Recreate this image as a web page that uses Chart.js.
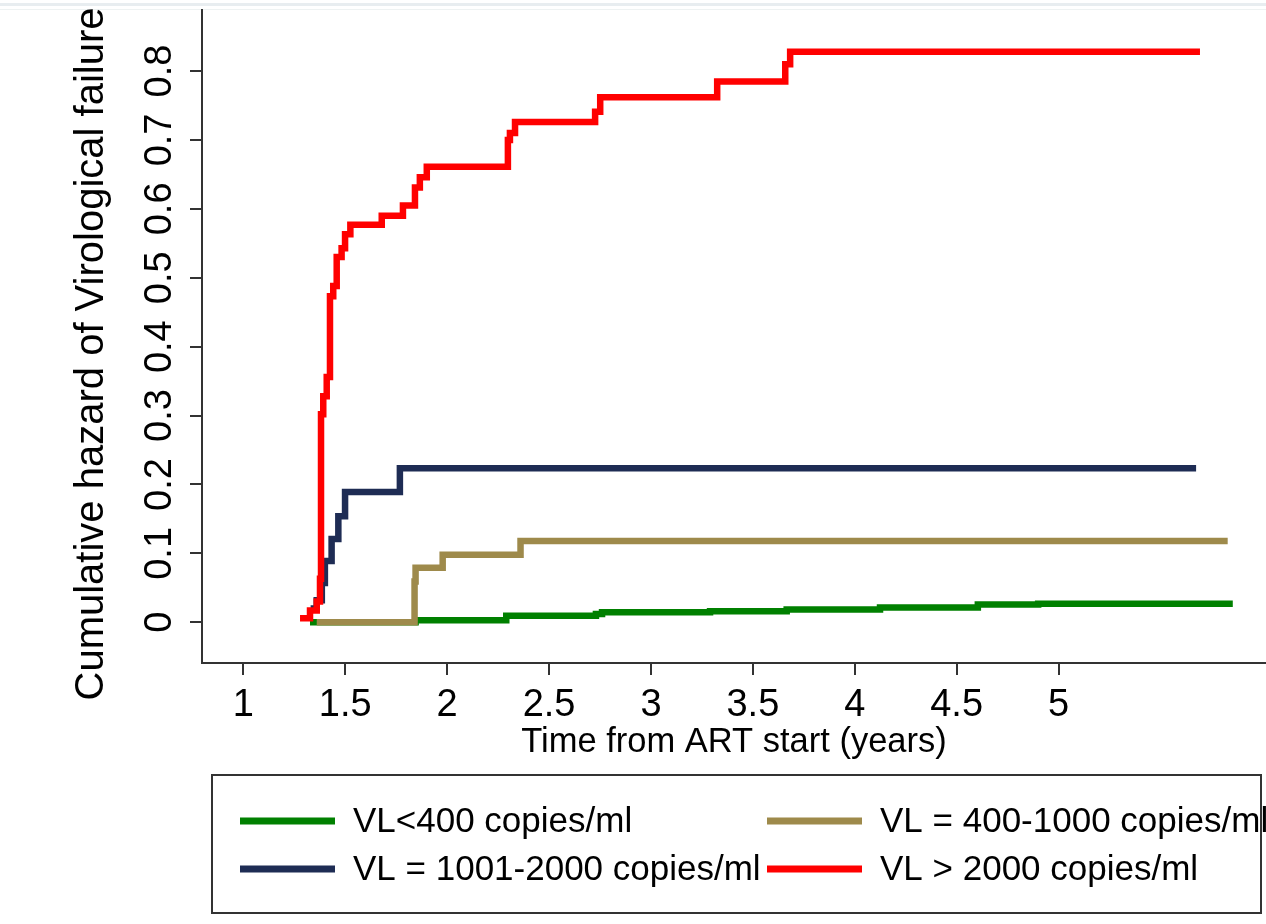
<!DOCTYPE html>
<html>
<head>
<meta charset="utf-8">
<title>Cumulative hazard of Virological failure</title>
<script src="https://cdn.jsdelivr.net/npm/chart.js@4.4.1/dist/chart.umd.min.js"></script>
<style>
	html, body { margin: 0; padding: 0; background: #fff; }
	#hazardChart { display: block; }
</style>
</head>
<body>
<canvas id="hazardChart" width="1266" height="924"></canvas>
<script>
// Axis ticks
var xTicks = [1, 1.5, 2, 2.5, 3, 3.5, 4, 4.5, 5];
var yTicks = [0, 0.1, 0.2, 0.3, 0.4, 0.5, 0.6, 0.7, 0.8];

// Series labels (legend order)
var seriesLabels = ['VL<400 copies/ml', 'VL = 400-1000 copies/ml', 'VL = 1001-2000 copies/ml', 'VL > 2000 copies/ml'];

// VL<400 copies/ml
var lowTime   = [1.327, 1.845, 2.29, 2.73, 2.76, 3.29, 3.666, 4.124, 4.604, 4.9, 5.855];
var lowHazard = [0, 0.003, 0.0095, 0.012, 0.0147, 0.016, 0.0185, 0.0215, 0.0258, 0.027, 0.027];

// VL = 400-1000 copies/ml
var midTime   = [1.36, 1.84, 1.845, 1.978, 2.36, 5.83];
var midHazard = [0, 0.059, 0.079, 0.098, 0.118, 0.118];

// VL = 1001-2000 copies/ml
var highTime   = [1.33, 1.36, 1.385, 1.40, 1.433, 1.466, 1.499, 1.768, 5.675];
var highHazard = [0.02, 0.032, 0.057, 0.089, 0.121, 0.154, 0.189, 0.2235, 0.2235];

// VL > 2000 copies/ml
var topTime   = [1.278, 1.327, 1.36, 1.376, 1.381, 1.392, 1.409, 1.425, 1.441, 1.458, 1.482, 1.499, 1.525,
	1.679, 1.783, 1.842, 1.866, 1.90, 2.298, 2.308, 2.333, 2.726, 2.751, 3.325, 3.659, 3.683, 5.694];
var topHazard = [0.006, 0.017, 0.03, 0.063, 0.302, 0.328, 0.356, 0.473, 0.488, 0.530, 0.543, 0.563, 0.577,
	0.59, 0.605, 0.631, 0.646, 0.661, 0.70, 0.71, 0.726, 0.741, 0.762, 0.785, 0.81, 0.828, 0.828];

var FONT = '"Liberation Sans", Arial, sans-serif';
var AXIS_COLOR = '#333333';

/**
 * Pair up times and values into {x, y} points
 */
function toPoints(times, values) {
	var points = [];
	for (var i = 0; i < times.length; i++) {
		points.push({x: times[i], y: values[i]});
	}
	return points;
}

function stepSeries(label, times, values, color, order) {
	return {
		label: label,
		data: toPoints(times, values),
		borderColor: color,
		backgroundColor: color,
		borderWidth: 6.5,
		stepped: 'before',
		pointRadius: 0,
		pointHoverRadius: 0,
		fill: false,
		order: order
	};
}

/**
 * Plugin: faint frame lines, rotated y title and boxed two-column legend
 */
var stataDecor = {
	id: 'stataDecor',
	beforeDraw: function (chart) {
		var ctx = chart.ctx;
		ctx.save();
		ctx.fillStyle = '#ffffff';
		ctx.fillRect(0, 0, chart.width, chart.height);
		ctx.fillStyle = '#e8edf0';
		ctx.fillRect(0, 3, chart.width, 3);
		ctx.fillStyle = '#eef2f2';
		ctx.fillRect(0, chart.chartArea.top - 1, chart.width, 1);
		ctx.restore();
	},
	afterDraw: function (chart) {
		var ctx = chart.ctx;
		ctx.save();
		// Y axis title
		ctx.translate(92, 354);
		ctx.rotate(-Math.PI / 2);
		ctx.fillStyle = '#000';
		ctx.font = '40px ' + FONT;
		ctx.textAlign = 'center';
		ctx.textBaseline = 'middle';
		ctx.fillText('Cumulative hazard of Virological failure', 0, 0);
		ctx.restore();

		// Legend box
		ctx.save();
		ctx.strokeStyle = AXIS_COLOR;
		ctx.lineWidth = 2;
		ctx.strokeRect(212, 775, 1049, 138);
		var colX = [240, 767];
		var rowY = [821, 869];
		ctx.font = '35px ' + FONT;
		ctx.textBaseline = 'middle';
		ctx.textAlign = 'left';
		chart.data.datasets.forEach(function (ds, i) {
			var x = colX[i % 2], y = rowY[Math.floor(i / 2)];
			ctx.strokeStyle = ds.borderColor;
			ctx.lineWidth = 7;
			ctx.beginPath();
			ctx.moveTo(x, y);
			ctx.lineTo(x + 95, y);
			ctx.stroke();
			ctx.fillStyle = '#000';
			ctx.fillText(ds.label, x + 113, y + 1);
		});
		ctx.restore();
	}
};

var hazardChart = new Chart(document.getElementById('hazardChart'), {
	type: 'line',
	data: {
		datasets: [
			stepSeries(seriesLabels[0], lowTime, lowHazard, '#008000', 4),
			stepSeries(seriesLabels[1], midTime, midHazard, '#9e8a4b', 3),
			stepSeries(seriesLabels[2], highTime, highHazard, '#1e2c54', 2),
			stepSeries(seriesLabels[3], topTime, topHazard, '#ff0000', 1)
		]
	},
	options: {
		responsive: false,
		devicePixelRatio: 1,
		animation: false,
		layout: {padding: {top: 10, right: 0, bottom: 164, left: 0}},
		plugins: {
			legend: {display: false},
			tooltip: {enabled: false}
		},
		scales: {
			x: {
				type: 'linear',
				min: 0.797,
				max: 6.018,
				afterBuildTicks: function (scale) {
					scale.ticks = xTicks.map(function (v) { return {value: v}; });
				},
				afterFit: function (scale) {
					scale.height = 97;
					scale.paddingLeft = 0;
					scale.paddingRight = 0;
				},
				grid: {drawOnChartArea: false, drawTicks: true, tickLength: 12, color: AXIS_COLOR, lineWidth: 2},
				border: {display: true, color: AXIS_COLOR, width: 2},
				ticks: {
					color: '#000',
					padding: 8,
					maxRotation: 0,
					autoSkip: false,
					font: {family: FONT, size: 38},
					callback: function (value) { return String(value); }
				},
				title: {
					display: true,
					text: 'Time from ART start (years)',
					color: '#000',
					padding: 0,
					font: {family: FONT, size: 34.5, lineHeight: 1}
				}
			},
			y: {
				type: 'linear',
				min: -0.0591,
				max: 0.8886,
				afterBuildTicks: function (scale) {
					scale.ticks = yTicks.map(function (v) { return {value: v}; });
				},
				afterFit: function (scale) {
					scale.width = 202;
					scale.paddingTop = 0;
					scale.paddingBottom = 0;
				},
				grid: {drawOnChartArea: false, drawTicks: true, tickLength: 12, color: AXIS_COLOR, lineWidth: 2},
				border: {display: true, color: AXIS_COLOR, width: 2},
				ticks: {
					color: '#000',
					padding: 3,
					minRotation: 90,
					maxRotation: 90,
					crossAlign: 'center',
					autoSkip: false,
					font: {family: FONT, size: 38},
					callback: function (value) { return String(value); }
				}
			}
		}
	},
	plugins: [stataDecor]
});
</script>
</body>
</html>
